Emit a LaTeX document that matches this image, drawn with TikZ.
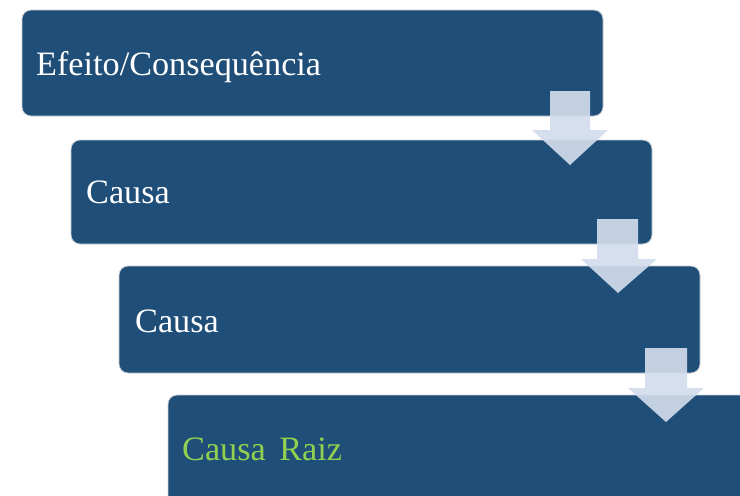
\documentclass[tikz,border=0pt]{standalone}
\usepackage{fontspec}
\setmainfont{Liberation Serif}
\definecolor{boxblue}{HTML}{1F4E79}
\definecolor{arrowfill}{HTML}{D2DCEC}
\definecolor{rootgreen}{HTML}{92D050}
\definecolor{edgegrey}{HTML}{C9CED6}
\begin{document}
\begin{tikzpicture}[x=1pt,y=-1pt,
  stepbox/.style={fill=boxblue,draw=edgegrey,line width=0.8pt,rounded corners=9pt,anchor=north west,inner sep=0pt,outer sep=0pt},
  label/.style={anchor=base west,inner sep=0pt,font=\fontsize{34.2}{36}\selectfont,text=white},
  downarrow/.style={fill=arrowfill,fill opacity=0.92,draw=none}]
\useasboundingbox (0,0) rectangle (740,496);
\clip (0,0) rectangle (740,496);
% boxes
\node[stepbox,minimum width=581,minimum height=106] (b1) at (22,10) {};
\node[stepbox,minimum width=581,minimum height=104] (b2) at (71,140) {};
\node[stepbox,minimum width=581,minimum height=107] (b3) at (119,266) {};
\node[stepbox,minimum width=600,minimum height=130] (b4) at (168,395) {};
% texts
\node[label] (t1) at (36,75) {Efeito/Consequência};
\node[label] (t2) at (86,203) {Causa};
\node[label] (t3) at (135,332) {Causa};
\node[label,text=rootgreen] (t4) at (182,460) {Causa\hspace{5pt} Raiz};
% arrows
\fill[downarrow] (550,91) -- (590,91) -- (590,130) -- (608,130) -- (570,165) -- (532,130) -- (550,130) -- cycle;
\fill[downarrow] (597,219) -- (638,219) -- (638,259) -- (657,259) -- (618,293) -- (581,259) -- (597,259) -- cycle;
\fill[downarrow] (645,348) -- (687,348) -- (687,388) -- (704,388) -- (666,422) -- (628,388) -- (645,388) -- cycle;
\end{tikzpicture}
\end{document}
